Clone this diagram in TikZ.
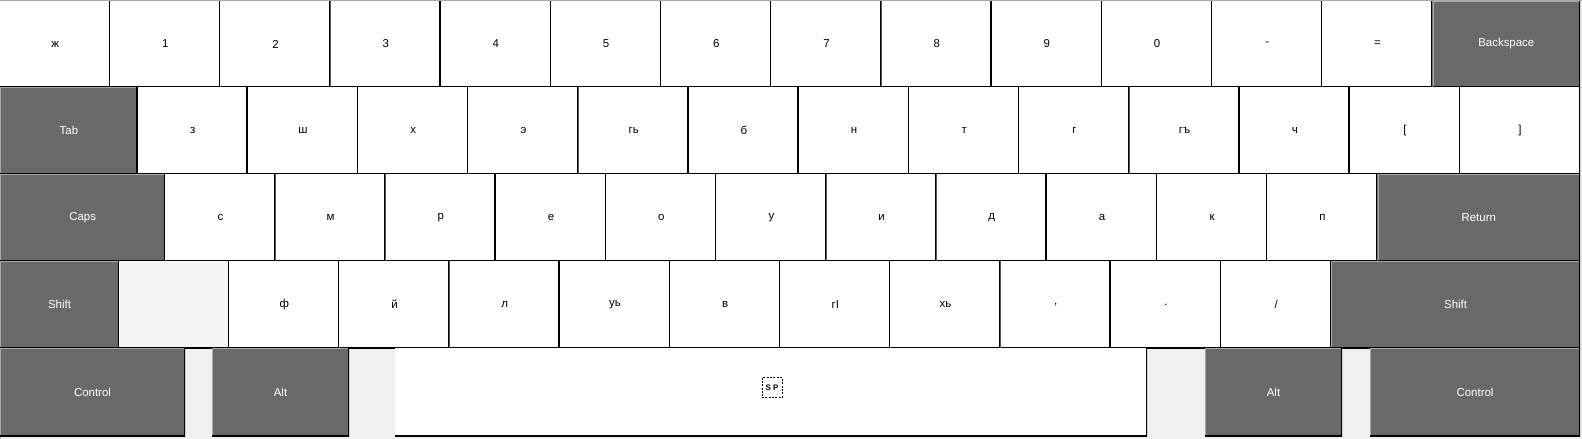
\documentclass[tikz,border=0pt]{standalone}
\usepackage{fontspec}
\setmainfont{Liberation Sans}
\definecolor{bgc}{HTML}{F0F0F0}
\definecolor{darkkey}{HTML}{696969}
\definecolor{hilite}{HTML}{A8A8A8}
\definecolor{blankkey}{HTML}{F4F4F4}
\tikzset{
  keybase/.style={rectangle, inner sep=0pt, outer sep=0pt, font=\fontsize{8.6}{10}\selectfont},
  blackedge/.style={path picture={\draw[black, line width=2.2pt] (path picture bounding box.north east) -- (path picture bounding box.south east) -- (path picture bounding box.south west);}},
  lightkey/.style={keybase, fill=white, text=black, blackedge},
  emptykey/.style={keybase, fill=blankkey, path picture={
      \draw[white, line width=1.6pt] (path picture bounding box.south west) -- (path picture bounding box.north west) -- (path picture bounding box.north east);
      \draw[black, line width=2.2pt] (path picture bounding box.north east) -- (path picture bounding box.south east) -- (path picture bounding box.south west);}},
  modkey/.style={keybase, fill=darkkey, text=white, path picture={
      \draw[hilite, line width=1.6pt] (path picture bounding box.south west) -- (path picture bounding box.north west) -- (path picture bounding box.north east);
      \draw[black, line width=2.2pt] (path picture bounding box.north east) -- (path picture bounding box.south east) -- (path picture bounding box.south west);}},
  sptag/.style={draw=black, dashed, dash pattern=on 1.5pt off 1pt, line width=0.6pt, inner sep=0pt, minimum size=15pt, font=\fontsize{6}{6}\selectfont\bfseries},
}
% name, x1, y1, x2, y2, style, label
\newcommand\keycell[7]{%
  \node[#6, minimum width={((#4)-(#2))*0.75pt}, minimum height={((#5)-(#3))*0.75pt}] (#1) at ({((#2)+(#4))/2},{((#3)+(#5))/2+1}) {#7};}
\begin{document}
\begin{tikzpicture}[x=0.75pt, y=-0.75pt]
\useasboundingbox (0,0) rectangle (1582,439);
\fill[bgc] (0,0) rectangle (1582,439);
\draw[hilite, line width=0.75pt] (0.5,439) -- (0.5,0.5) -- (1582,0.5);
% row 1
\foreach \lab [count=\i from 0] in {ж,1,2,3,4,5,6,7,8,9,0,-,=}
  {\keycell{a\i}{\i*110.2}{0}{(\i+1)*110.2}{86}{lightkey}{\lab}}
\keycell{bksp}{1432.6}{0}{1580}{86}{modkey}{Backspace}
% row 2
\keycell{tab}{0}{86}{137.75}{173}{modkey}{Tab}
\foreach \lab [count=\i from 0] in {з,ш,х,э,гь,б,н,т,г,гъ,ч,[}
  {\keycell{b\i}{137.75+\i*110.2}{86}{137.75+(\i+1)*110.2}{173}{lightkey}{\lab}}
\keycell{rbr}{1460.15}{86}{1580}{173}{lightkey}{]}
% row 3
\keycell{caps}{0}{173}{165.3}{260}{modkey}{Caps}
\foreach \lab [count=\i from 0] in {с,м,р,е,о,у,и,д,а,к,п}
  {\keycell{c\i}{165.3+\i*110.2}{173}{165.3+(\i+1)*110.2}{260}{lightkey}{\lab}}
\keycell{ret}{1377.5}{173}{1580}{260}{modkey}{Return}
% row 4
\keycell{lshift}{0}{260}{119}{347}{modkey}{Shift}
\keycell{blank}{119}{260}{229.2}{347}{emptykey}{}
\foreach \lab [count=\i from 0] in {ф,й,л,уь,в,гӀ,хь,{,},.,/}
  {\keycell{d\i}{229.2+\i*110.2}{260}{229.2+(\i+1)*110.2}{347}{lightkey}{\lab}}
\keycell{rshift}{1331.2}{260}{1580}{347}{modkey}{Shift}
% row 5
\keycell{lctrl}{0}{347}{185}{435}{modkey}{Control}
\keycell{lalt}{212}{347}{349}{435}{modkey}{Alt}
\keycell{space}{395}{347}{1147}{435}{lightkey}{}
\node[sptag] (sp) at (772,387.5) {S P};
\keycell{ralt}{1205}{347}{1342}{435}{modkey}{Alt}
\keycell{rctrl}{1370}{347}{1580}{435}{modkey}{Control}
\end{tikzpicture}
\end{document}
